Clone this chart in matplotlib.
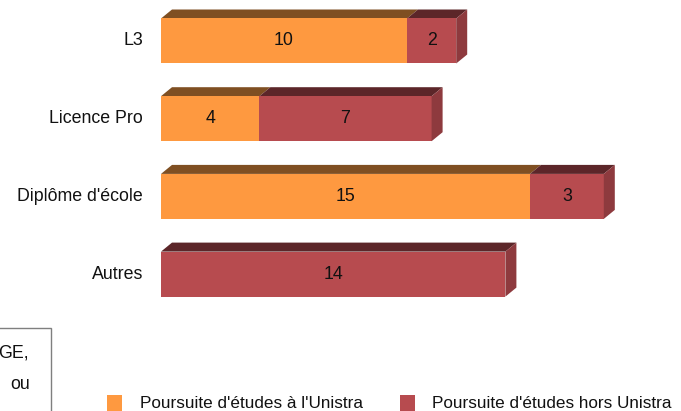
import matplotlib
matplotlib.use("Agg")
import matplotlib.pyplot as plt
from matplotlib.patches import Polygon, Rectangle
import numpy as np

categories = ["L3", "Licence Pro", "Diplôme d'école", "Autres"]
unistra = [10, 4, 15, 0]
hors_unistra = [2, 7, 3, 14]
series_names = ["Poursuite d'études à l'Unistra", "Poursuite d'études hors Unistra"]

W, H = 681, 411
plt.rcParams["font.family"] = ["Liberation Sans", "DejaVu Sans"]
FS = 12.8

fig = plt.figure(figsize=(W / 100, H / 100), dpi=100)
# x = 0 at pixel 161, 24.6 px per unit; category centres 77.7 px apart from y=41
px_unit = 24.6
py_unit = 77.7
ax = fig.add_axes([161 / W, 0, (W - 161) / W, 1])
ax.set_xlim(0, (W - 161) / px_unit)
ax.set_ylim((H - 41) / py_unit, -41 / py_unit)
ax.axis("off")

bar_h = 45 / py_unit
dx = 11 / px_unit
dy = 9 / py_unit

front = ["#FE9940", "#B74B4F"]
top = ["#7F4F22", "#5C2629"]
side = ["#C0733A", "#8E3A3E"]

y = np.arange(len(categories))
for i in range(len(categories)):
    yt = y[i] - bar_h / 2
    yb = y[i] + bar_h / 2
    left = 0
    segs = [(unistra[i], 0), (hors_unistra[i], 1)]
    segs = [s for s in segs if s[0] > 0]
    for k, (v, c) in enumerate(segs):
        ax.barh(y[i], v, left=left, height=bar_h, color=front[c], edgecolor="none", zorder=2)
        ax.add_patch(Polygon([(left, yt), (left + v, yt), (left + v + dx, yt - dy), (left + dx, yt - dy)],
                             closed=True, facecolor=top[c], edgecolor="none", zorder=1))
        ax.text(left + v / 2, y[i], str(v), ha="center", va="center", fontsize=FS, color="#111111", zorder=4)
        left += v
        if k == len(segs) - 1:
            ax.add_patch(Polygon([(left, yt), (left + dx, yt - dy), (left + dx, yb - dy), (left, yb)],
                                 closed=True, facecolor=side[c], edgecolor="none", zorder=3))
    ax.text(-18 / px_unit, y[i], categories[i], ha="right", va="center", fontsize=FS, color="#111111")

# cropped text box, lower left
fig.patches.append(Rectangle((-10 / W, -10 / H), 61 / W, (H - 328 + 10) / H, transform=fig.transFigure,
                             facecolor="white", edgecolor="#7F7F7F", linewidth=1))
fig.text(29 / W, 1 - 353 / H, "GE,", ha="right", va="center", fontsize=FS, color="#111111")
fig.text(30 / W, 1 - 384 / H, "ou", ha="right", va="center", fontsize=FS, color="#111111")

# legend
for sq_x, txt_x, c, name in [(107, 140, 0, series_names[0]), (400, 432, 1, series_names[1])]:
    fig.patches.append(Rectangle((sq_x / W, 0), 15 / W, 16 / H, transform=fig.transFigure,
                                 facecolor=front[c], edgecolor="none"))
    fig.text(txt_x / W, 1 - 403 / H, name, ha="left", va="center", fontsize=12.3, color="#111111")

fig.savefig("out.png", dpi=100)
